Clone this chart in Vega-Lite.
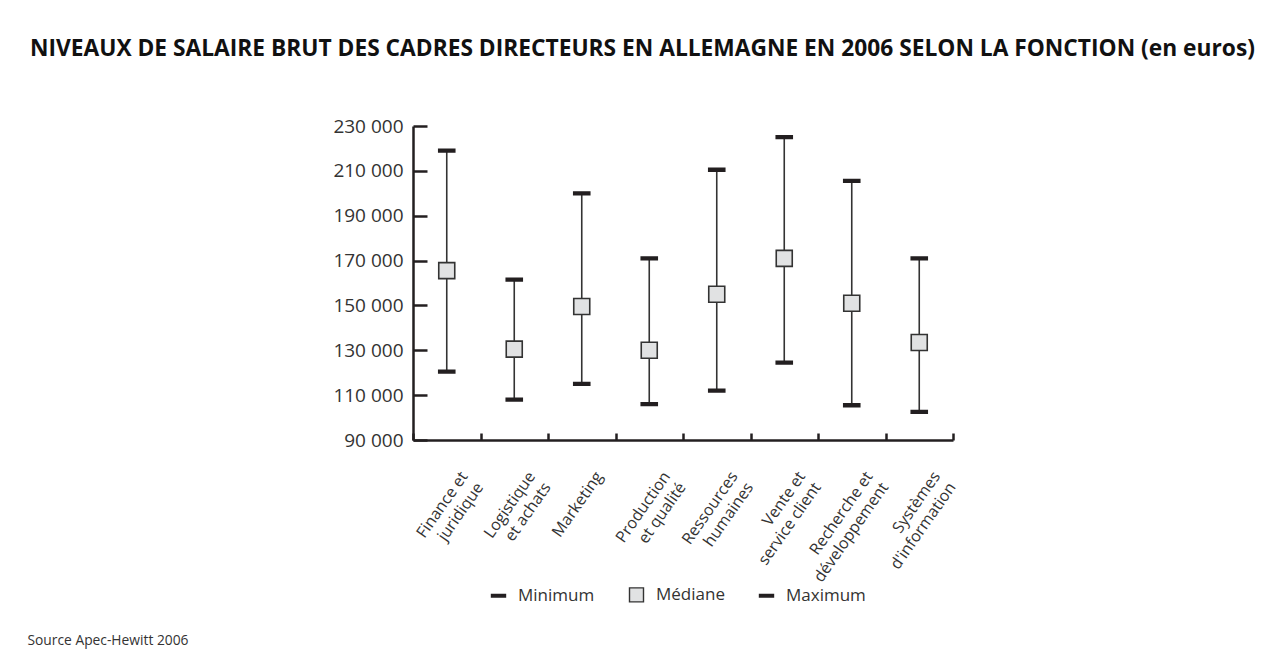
{
  "$schema": "https://vega.github.io/schema/vega-lite/v6.json",
  "width": 540,
  "height": 314,
  "autosize": {"type": "none"},
  "padding": {"left": 413, "top": 126, "right": 331, "bottom": 216},
  "background": "white",
  "title": {
    "text": "NIVEAUX DE SALAIRE BRUT DES CADRES DIRECTEURS EN ALLEMAGNE EN 2006 SELON LA FONCTION (en euros)",
    "anchor": "start",
    "frame": "group",
    "dx": -383,
    "offset": 56,
    "font": "Open Sans",
    "fontSize": 22.75,
    "fontWeight": "bold",
    "color": "#111111"
  },
  "config": {
    "view": {"stroke": null},
    "axis": {"grid": false}
  },
  "data": {
    "values": [
      {"fonction": "Finance et\njuridique", "Minimum": 120500, "Médiane": 165500, "Maximum": 219000},
      {"fonction": "Logistique\net achats", "Minimum": 108000, "Médiane": 130500, "Maximum": 161500},
      {"fonction": "Marketing", "Minimum": 115000, "Médiane": 149500, "Maximum": 200000},
      {"fonction": "Production\net qualité", "Minimum": 106000, "Médiane": 130000, "Maximum": 171000},
      {"fonction": "Ressources\nhumaines", "Minimum": 112000, "Médiane": 155000, "Maximum": 210500},
      {"fonction": "Vente et\nservice client", "Minimum": 124500, "Médiane": 171000, "Maximum": 225000},
      {"fonction": "Recherche et\ndéveloppement", "Minimum": 105500, "Médiane": 151000, "Maximum": 205500},
      {"fonction": "Systèmes\nd'information", "Minimum": 102500, "Médiane": 133500, "Maximum": 171000}
    ]
  },
  "layer": [
    {
      "mark": {"type": "rule", "stroke": "#333333", "strokeWidth": 1.6},
      "encoding": {
        "x": {
          "field": "fonction",
          "type": "nominal",
          "sort": null,
          "scale": {"paddingInner": 0, "paddingOuter": 0},
          "axis": {
            "title": "Source Apec-Hewitt 2006",
            "titleFont": "Open Sans",
            "titleFontSize": 13.8,
            "titleFontWeight": "normal",
            "titleColor": "#333333",
            "titleAlign": "left",
            "titleBaseline": "middle",
            "titleX": -386,
            "titleY": 200,
            "labelExpr": "split(datum.label, '\\n')",
            "labelAngle": -55,
            "labelAlign": "right",
            "labelBaseline": "middle",
            "labelFont": "Open Sans",
            "labelFontSize": 16,
            "labelColor": "#333333",
            "labelLineHeight": 19,
            "labelOffset": 17,
            "labelPadding": 40,
            "tickSize": -7,
            "tickWidth": 2.5,
            "tickColor": "#231f20",
            "tickBand": "extent",
            "domainWidth": 2.5,
            "domainColor": "#231f20"
          }
        },
        "y": {
          "field": "Minimum",
          "type": "quantitative",
          "scale": {"domain": [90000, 230000], "nice": false, "zero": false},
          "axis": {
            "title": null,
            "values": [90000, 110000, 130000, 150000, 170000, 190000, 210000, 230000],
            "labelExpr": "replace(format(datum.value, ','), ',', ' ')",
            "labelFont": "Open Sans",
            "labelFontSize": 19,
            "labelColor": "#333333",
            "labelPadding": 24,
            "tickSize": -14,
            "tickWidth": 2.5,
            "tickColor": "#231f20",
            "domainWidth": 2.5,
            "domainColor": "#231f20"
          }
        },
        "y2": {"field": "Maximum"}
      }
    },
    {
      "transform": [{"fold": ["Minimum", "Médiane", "Maximum"], "as": ["serie", "valeur"]}],
      "mark": {"type": "point", "filled": true, "size": 256, "opacity": 1, "strokeWidth": 1.6},
      "encoding": {
        "x": {"field": "fonction", "type": "nominal", "sort": null},
        "y": {"field": "valeur", "type": "quantitative"},
        "shape": {
          "field": "serie",
          "type": "nominal",
          "scale": {
            "domain": ["Minimum", "Médiane", "Maximum"],
            "range": ["M-1,-0.17H1V0.17H-1Z", "square", "M-1,-0.17H1V0.17H-1Z"]
          },
          "legend": {
            "title": null,
            "orient": "none",
            "direction": "horizontal",
            "legendX": 77,
            "legendY": 460,
            "labelFont": "Open Sans",
            "labelFontSize": 17,
            "labelColor": "#333333",
            "labelOffset": 11,
            "columnPadding": 31,
            "symbolSize": 196,
            "symbolStrokeWidth": 1.4
          }
        },
        "color": {
          "field": "serie",
          "type": "nominal",
          "scale": {"domain": ["Minimum", "Médiane", "Maximum"], "range": ["#231f20", "#e1e2e3", "#231f20"]}
        },
        "stroke": {
          "field": "serie",
          "type": "nominal",
          "scale": {"domain": ["Minimum", "Médiane", "Maximum"], "range": ["#231f20", "#333333", "#231f20"]}
        }
      }
    }
  ]
}
